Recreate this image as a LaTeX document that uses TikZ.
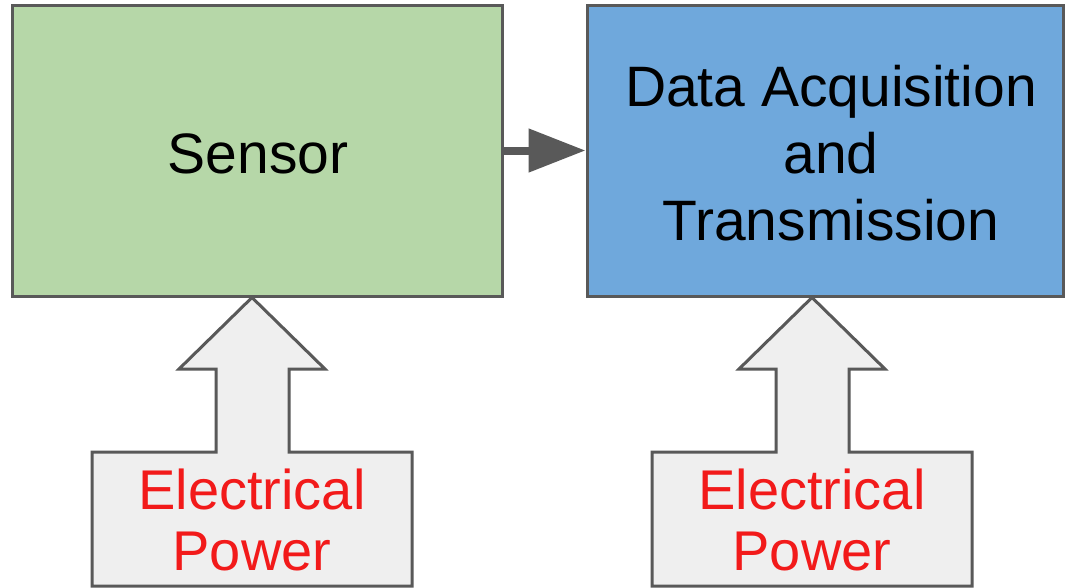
\documentclass[tikz,border=0pt]{standalone}
\usepackage{fontspec}
\setmainfont{Liberation Sans}
\usetikzlibrary{arrows.meta}
\definecolor{sensorgreen}{HTML}{B6D7A8}
\definecolor{daqblue}{HTML}{6FA8DC}
\definecolor{edgegray}{HTML}{595959}
\definecolor{powerfill}{HTML}{EFEFEF}
\definecolor{powerred}{HTML}{F21A1A}
\tikzset{
  blockbox/.style={draw=edgegray, line width=3pt, minimum width=490pt, minimum height=291pt, inner sep=0pt, align=center, font=\fontsize{57}{67}\selectfont},
  powershape/.style={draw=edgegray, fill=powerfill, line width=3pt, line join=miter},
  powertext/.style={text=powerred, align=center, inner sep=0pt, font=\fontsize{56}{61}\selectfont},
  flowarrow/.style={draw=edgegray, line width=8pt, -{Triangle[length=57pt,width=42pt]}}
}
\begin{document}
\begin{tikzpicture}[x=1pt,y=-1pt]
\useasboundingbox (0,0) rectangle (1066,587);
\fill[white] (0,0) rectangle (1066,587);
% main blocks
\node[blockbox, fill=sensorgreen] (sensor) at (257,150.5) {};
\node[blockbox, fill=daqblue, minimum width=476pt] (daq) at (825,150.5) {};
\node[font=\fontsize{57}{67}\selectfont, inner sep=0pt] (sensorlabel) at (258,154) {Sensor};
\node[font=\fontsize{57}{67}\selectfont, inner sep=0pt, align=center] (daqlabel) at (831,153) {Data Acquisition\\and\\Transmission};
% connector
\draw[flowarrow] (sensor.east) -- (daq.west);
% power arrow shapes (block arrow merged with box)
\draw[powershape] (92,452) -- (216,452) -- (216,369) -- (179,369) -- (252,297.5)
  -- (325,369) -- (289,369) -- (289,452) -- (412,452) -- (412,586) -- (92,586) -- cycle;
\draw[powershape] (652,452) -- (776,452) -- (776,369) -- (739,369) -- (812,297.5)
  -- (885,369) -- (849,369) -- (849,452) -- (972,452) -- (972,586) -- (652,586) -- cycle;
\node[powertext] (power1) at (252,520) {Electrical\\Power};
\node[powertext] (power2) at (812,520) {Electrical\\Power};
\end{tikzpicture}
\end{document}
